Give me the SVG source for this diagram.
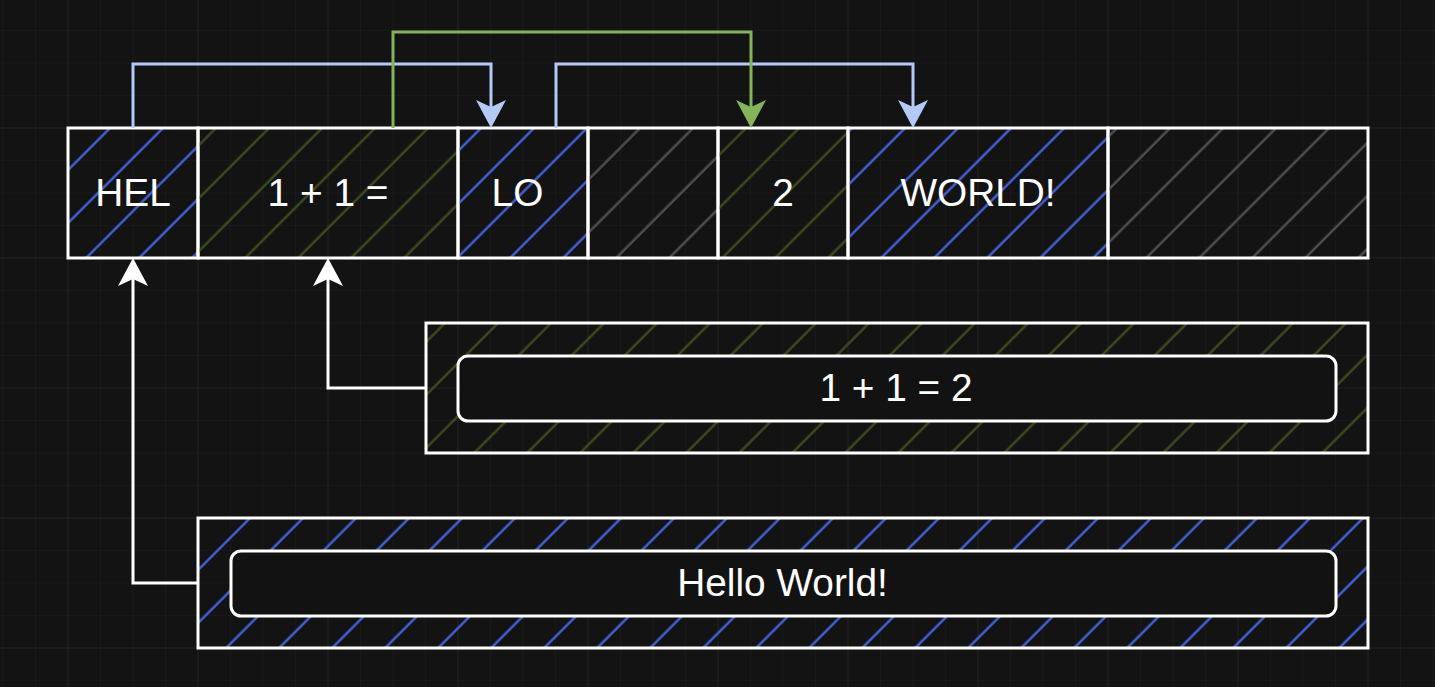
<svg xmlns="http://www.w3.org/2000/svg" width="1435" height="687" viewBox="0 0 1435 687">
<style>
.cell{stroke:#ffffff;stroke-width:3}
.inner{fill:#121212;stroke:#ffffff;stroke-width:3}
.lbl{font-family:"Liberation Sans",Arial,sans-serif;font-size:38.8px;fill:#ffffff;text-anchor:middle}
.conn{fill:none;stroke-width:3}
.blue{stroke:#b5c9f7}
.green{stroke:#84b35a}
.white{stroke:#ffffff}
</style>
<defs>
<pattern id="gridMinor" patternUnits="userSpaceOnUse" x="2.5" y="-2.5" width="32.5" height="32.5">
<path d="M0 0V32.5M0 0H32.5" stroke="#1f1f1f" stroke-width="1" fill="none"/>
</pattern>
<pattern id="gridMajor" patternUnits="userSpaceOnUse" x="67.5" y="127.5" width="130" height="130">
<path d="M0 0V130M0 0H130" stroke="#2b2b2b" stroke-width="1" fill="none"/>
</pattern>
<pattern id="hBlue" patternUnits="userSpaceOnUse" width="37.48" height="40" patternTransform="rotate(45)">
<line x1="18.4" y1="-1" x2="18.4" y2="41" stroke="#4262d8" stroke-width="2.4"/>
</pattern>
<pattern id="hGreen" patternUnits="userSpaceOnUse" width="37.48" height="40" patternTransform="rotate(45)">
<line x1="18.4" y1="-1" x2="18.4" y2="41" stroke="#3c4b1e" stroke-width="2.4"/>
</pattern>
<pattern id="hGray" patternUnits="userSpaceOnUse" width="37.48" height="40" patternTransform="rotate(45)">
<line x1="18.4" y1="-1" x2="18.4" y2="41" stroke="#4f4f4f" stroke-width="2.4"/>
</pattern>
<marker id="aBlue" markerUnits="userSpaceOnUse" markerWidth="40" markerHeight="40" refX="7" refY="0" orient="auto" overflow="visible">
<path d="M0 -15 L28 0 L0 15 L7 0 Z" fill="#b5c9f7"/>
</marker>
<marker id="aGreen" markerUnits="userSpaceOnUse" markerWidth="40" markerHeight="40" refX="7" refY="0" orient="auto" overflow="visible">
<path d="M0 -15 L28 0 L0 15 L7 0 Z" fill="#84b35a"/>
</marker>
<marker id="aWhite" markerUnits="userSpaceOnUse" markerWidth="40" markerHeight="40" refX="7" refY="0" orient="auto" overflow="visible">
<path d="M0 -15 L28 0 L0 15 L7 0 Z" fill="#ffffff"/>
</marker>
</defs>
<rect width="1435" height="687" fill="#131313"/>
<rect width="1435" height="687" fill="url(#gridMinor)"/>
<rect width="1435" height="687" fill="url(#gridMajor)"/>

<g id="cell-hel"><rect class="cell" x="68" y="128" width="130" height="130" fill="url(#hBlue)"/><text class="lbl" x="133" y="206">HEL</text></g>
<g id="cell-1plus1"><rect class="cell" x="198" y="128" width="260" height="130" fill="url(#hGreen)"/><text class="lbl" x="328" y="206">1 + 1 =</text></g>
<g id="cell-lo"><rect class="cell" x="458" y="128" width="130" height="130" fill="url(#hBlue)"/><text class="lbl" x="517.5" y="206">LO</text></g>
<g id="cell-empty1"><rect class="cell" x="588" y="128" width="130" height="130" fill="url(#hGray)"/></g>
<g id="cell-2"><rect class="cell" x="718" y="128" width="130" height="130" fill="url(#hGreen)"/><text class="lbl" x="783" y="206">2</text></g>
<g id="cell-world"><rect class="cell" x="848" y="128" width="260" height="130" fill="url(#hBlue)"/><text class="lbl" x="978" y="206">WORLD!</text></g>
<g id="cell-empty2"><rect class="cell" x="1108" y="128" width="260" height="130" fill="url(#hGray)"/></g>

<g id="msg-math"><rect class="cell" x="426" y="323" width="942" height="130" fill="url(#hGreen)"/><rect class="inner" x="458" y="356" width="878" height="65" rx="10"/><text class="lbl" x="896" y="401">1 + 1 = 2</text></g>
<g id="msg-hello"><rect class="cell" x="198" y="518" width="1170" height="130" fill="url(#hBlue)"/><rect class="inner" x="231" y="551" width="1105" height="65" rx="10"/><text class="lbl" x="782.5" y="596">Hello World!</text></g>

<g id="connectors">
<path class="conn blue" d="M133 128V64H491V107" marker-end="url(#aBlue)"/>
<path class="conn blue" d="M556 128V64H913V107" marker-end="url(#aBlue)"/>
<path class="conn green" d="M393 128V32H751V107" marker-end="url(#aGreen)"/>
<path class="conn white" d="M426 388H328V279" marker-end="url(#aWhite)"/>
<path class="conn white" d="M198 583H133V279" marker-end="url(#aWhite)"/>
</g>
</svg>
